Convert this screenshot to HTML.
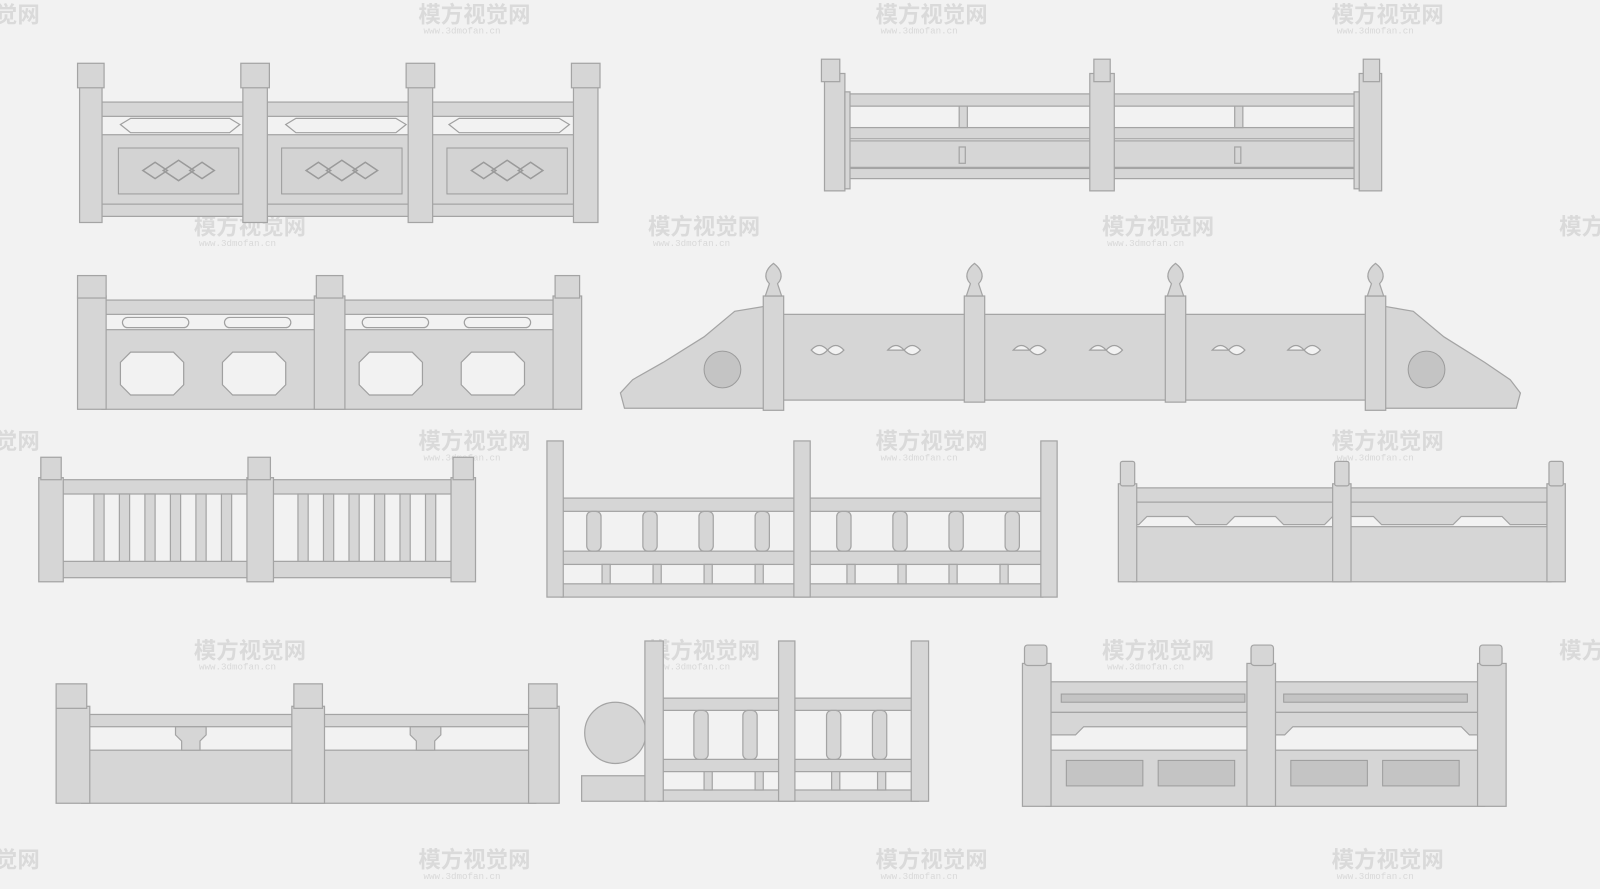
<!DOCTYPE html>
<html><head><meta charset="utf-8"><style>
html,body{margin:0;padding:0;background:#f2f2f2;overflow:hidden}
svg{display:block}
.s{fill:#d6d6d6;stroke:#a4a4a4;stroke-width:1.2}
.d{fill:#c4c4c4;stroke:#9c9c9c;stroke-width:1}
.h{fill:#f2f2f2;stroke:#a0a0a0;stroke-width:1.2}
.w{font-family:"Liberation Sans","Noto Sans CJK SC",sans-serif;font-size:22px;font-weight:bold;fill:#c8c8c8;opacity:.55}
.w2{font-family:"Liberation Mono",monospace;font-size:9px;fill:#c8c8c8;opacity:.6}
</style></head><body>
<svg width="1600" height="889" viewBox="0 0 1568 871" preserveAspectRatio="none" xmlns="http://www.w3.org/2000/svg">
<rect width="1568" height="871" fill="#f2f2f2"/>

<!-- watermarks -->
<g>
<text class="w" x="410" y="22">模方视觉网</text><text class="w" x="858" y="22">模方视觉网</text><text class="w" x="1305" y="22">模方视觉网</text><text class="w" x="-5" y="22">觉网</text>
<text class="w" x="190" y="230">模方视觉网</text><text class="w" x="635" y="230">模方视觉网</text><text class="w" x="1080" y="230">模方视觉网</text><text class="w" x="1528" y="230">模方</text>
<text class="w" x="410" y="440">模方视觉网</text><text class="w" x="858" y="440">模方视觉网</text><text class="w" x="1305" y="440">模方视觉网</text><text class="w" x="-5" y="440">觉网</text>
<text class="w" x="190" y="645">模方视觉网</text><text class="w" x="635" y="645">模方视觉网</text><text class="w" x="1080" y="645">模方视觉网</text><text class="w" x="1528" y="645">模方</text>
<text class="w" x="410" y="850">模方视觉网</text><text class="w" x="858" y="850">模方视觉网</text><text class="w" x="1305" y="850">模方视觉网</text><text class="w" x="-5" y="850">觉网</text>
<text class="w2" x="415" y="33">www.3dmofan.cn</text><text class="w2" x="863" y="33">www.3dmofan.cn</text><text class="w2" x="1310" y="33">www.3dmofan.cn</text>
<text class="w2" x="195" y="241">www.3dmofan.cn</text><text class="w2" x="640" y="241">www.3dmofan.cn</text><text class="w2" x="1085" y="241">www.3dmofan.cn</text>
<text class="w2" x="415" y="451">www.3dmofan.cn</text><text class="w2" x="863" y="451">www.3dmofan.cn</text><text class="w2" x="1310" y="451">www.3dmofan.cn</text>
<text class="w2" x="195" y="656">www.3dmofan.cn</text><text class="w2" x="640" y="656">www.3dmofan.cn</text><text class="w2" x="1085" y="656">www.3dmofan.cn</text>
<text class="w2" x="415" y="861">www.3dmofan.cn</text><text class="w2" x="863" y="861">www.3dmofan.cn</text><text class="w2" x="1310" y="861">www.3dmofan.cn</text>
</g>

<!-- R1 -->
<g>
<rect class="s" x="95" y="100" width="480" height="14"/>
<rect class="s" x="95" y="132" width="480" height="70"/>
<rect class="s" x="95" y="200" width="480" height="12"/>
<g class="h"><polygon points="118,122 128,116 225,116 235,122 225,130 128,130"/><polygon points="280,122 290,116 388,116 398,122 388,130 290,130"/><polygon points="440,122 450,116 548,116 558,122 548,130 450,130"/></g>
<g class="d" fill-opacity=".5"><rect x="116" y="145" width="118" height="45" fill="#d0d0d0"/><rect x="276" y="145" width="118" height="45" fill="#d0d0d0"/><rect x="438" y="145" width="118" height="45" fill="#d0d0d0"/></g>
<g fill="none" stroke="#9a9a9a" stroke-width="1.5"><path d="M140,167 l12,-8 12,8 -12,8z M160,167 l15,-10 15,10 -15,10z M186,167 l12,-8 12,8 -12,8z"/><path d="M300,167 l12,-8 12,8 -12,8z M320,167 l15,-10 15,10 -15,10z M346,167 l12,-8 12,8 -12,8z"/><path d="M462,167 l12,-8 12,8 -12,8z M482,167 l15,-10 15,10 -15,10z M508,167 l12,-8 12,8 -12,8z"/></g>
<g class="s"><rect x="78" y="85" width="22" height="133"/><rect x="76" y="62" width="26" height="24"/>
<rect x="238" y="85" width="24" height="133"/><rect x="236" y="62" width="28" height="24"/>
<rect x="400" y="85" width="24" height="133"/><rect x="398" y="62" width="28" height="24"/>
<rect x="562" y="85" width="24" height="133"/><rect x="560" y="62" width="28" height="24"/></g>
</g>

<!-- R2 -->
<g>
<rect class="s" x="820" y="92" width="520" height="12"/>
<rect class="s" x="820" y="125" width="520" height="11"/>
<rect class="s" x="820" y="138" width="520" height="26"/>
<rect class="s" x="820" y="165" width="520" height="10"/>
<g class="s"><rect x="940" y="104" width="8" height="21"/><rect x="1210" y="104" width="8" height="21"/><rect x="940" y="144" width="6" height="16"/><rect x="1210" y="144" width="6" height="16"/></g>
<g class="s"><rect x="808" y="72" width="20" height="115"/><rect x="805" y="58" width="18" height="22"/><rect x="828" y="90" width="5" height="95"/>
<rect x="1068" y="72" width="24" height="115"/><rect x="1072" y="58" width="16" height="22"/>
<rect x="1332" y="72" width="22" height="115"/><rect x="1336" y="58" width="16" height="22"/><rect x="1327" y="90" width="5" height="95"/></g>
</g>

<!-- R3 -->
<g>
<rect class="s" x="100" y="294" width="445" height="14"/>
<rect class="s" x="100" y="323" width="445" height="78"/>
<g class="h"><rect x="120" y="311" width="65" height="10" rx="5"/><rect x="220" y="311" width="65" height="10" rx="5"/><rect x="355" y="311" width="65" height="10" rx="5"/><rect x="455" y="311" width="65" height="10" rx="5"/>
<path d="M128,345 h42 l10,10 v22 l-10,10 h-42 l-10,-10 v-22z"/><path d="M228,345 h42 l10,10 v22 l-10,10 h-42 l-10,-10 v-22z"/><path d="M362,345 h42 l10,10 v22 l-10,10 h-42 l-10,-10 v-22z"/><path d="M462,345 h42 l10,10 v22 l-10,10 h-42 l-10,-10 v-22z"/></g>
<g class="s"><rect x="76" y="290" width="28" height="111"/><rect x="76" y="270" width="28" height="22"/>
<rect x="308" y="290" width="30" height="111"/><rect x="310" y="270" width="26" height="22"/>
<rect x="542" y="290" width="28" height="111"/><rect x="544" y="270" width="24" height="22"/></g>
</g>

<!-- R4 -->
<g>
<path class="s" d="M750,300 L720,305 L690,330 L650,355 L620,372 L608,385 L612,400 L750,400z"/>
<path class="s" d="M1356,300 L1385,305 L1415,330 L1455,355 L1480,372 L1490,385 L1486,400 L1356,400z"/>
<circle class="d" cx="708" cy="362" r="18" fill="#cfcfcf"/><circle class="d" cx="1398" cy="362" r="18" fill="#cfcfcf"/>
<rect class="s" x="765" y="308" width="575" height="84"/>
<g class="h"><path d="M795,343 q8,-9 16,0 q8,-9 16,0 q-8,9 -16,0 q-8,9 -16,0z"/><path d="M870,343 q8,-9 16,0 q8,-9 16,0 q-8,9 -16,0z"/>
<path d="M993,343 q8,-9 16,0 q8,-9 16,0 q-8,9 -16,0z"/><path d="M1068,343 q8,-9 16,0 q8,-9 16,0 q-8,9 -16,0z"/>
<path d="M1188,343 q8,-9 16,0 q8,-9 16,0 q-8,9 -16,0z"/><path d="M1262,343 q8,-9 16,0 q8,-9 16,0 q-8,9 -16,0z"/></g>
<g class="s"><rect x="748" y="290" width="20" height="112"/><rect x="945" y="290" width="20" height="104"/><rect x="1142" y="290" width="20" height="104"/><rect x="1338" y="290" width="20" height="112"/>
<path d="M758,258 c8,6 10,14 4,20 l4,12 h-16 l4,-12 c-6,-6 -4,-14 4,-20z"/><path d="M955,258 c8,6 10,14 4,20 l4,12 h-16 l4,-12 c-6,-6 -4,-14 4,-20z"/>
<path d="M1152,258 c8,6 10,14 4,20 l4,12 h-16 l4,-12 c-6,-6 -4,-14 4,-20z"/><path d="M1348,258 c8,6 10,14 4,20 l4,12 h-16 l4,-12 c-6,-6 -4,-14 4,-20z"/></g>
</g>

<!-- R5 -->
<g>
<rect class="s" x="55" y="470" width="395" height="14"/>
<rect class="s" x="55" y="550" width="395" height="16"/>
<g class="s"><rect x="92" y="484" width="10" height="66"/><rect x="117" y="484" width="10" height="66"/><rect x="142" y="484" width="10" height="66"/><rect x="167" y="484" width="10" height="66"/><rect x="192" y="484" width="10" height="66"/><rect x="217" y="484" width="10" height="66"/>
<rect x="292" y="484" width="10" height="66"/><rect x="317" y="484" width="10" height="66"/><rect x="342" y="484" width="10" height="66"/><rect x="367" y="484" width="10" height="66"/><rect x="392" y="484" width="10" height="66"/><rect x="417" y="484" width="10" height="66"/></g>
<g class="s"><rect x="38" y="468" width="24" height="102"/><rect x="40" y="448" width="20" height="22"/>
<rect x="242" y="468" width="26" height="102"/><rect x="243" y="448" width="22" height="22"/>
<rect x="442" y="468" width="24" height="102"/><rect x="444" y="448" width="20" height="22"/></g>
</g>

<!-- R6 -->
<g>
<rect class="s" x="550" y="488" width="472" height="13"/>
<rect class="s" x="550" y="540" width="472" height="13"/>
<rect class="s" x="550" y="572" width="472" height="13"/>
<g class="s"><rect x="575" y="501" width="14" height="39" rx="5"/><rect x="630" y="501" width="14" height="39" rx="5"/><rect x="685" y="501" width="14" height="39" rx="5"/><rect x="740" y="501" width="14" height="39" rx="5"/>
<rect x="820" y="501" width="14" height="39" rx="5"/><rect x="875" y="501" width="14" height="39" rx="5"/><rect x="930" y="501" width="14" height="39" rx="5"/><rect x="985" y="501" width="14" height="39" rx="5"/>
<rect x="590" y="553" width="8" height="19"/><rect x="640" y="553" width="8" height="19"/><rect x="690" y="553" width="8" height="19"/><rect x="740" y="553" width="8" height="19"/>
<rect x="830" y="553" width="8" height="19"/><rect x="880" y="553" width="8" height="19"/><rect x="930" y="553" width="8" height="19"/><rect x="980" y="553" width="8" height="19"/></g>
<g class="s"><rect x="536" y="432" width="16" height="153"/><rect x="778" y="432" width="16" height="153"/><rect x="1020" y="432" width="16" height="153"/></g>
</g>

<!-- R7 -->
<g>
<rect class="s" x="1110" y="478" width="410" height="14"/>
<path class="s" d="M1110,492 h410 v22 h-40 l-8,-8 h-40 l-8,8 h-70 l-8,-8 h-40 l-8,8 h-40 l-8,-8 h-40 l-8,8 h-30 l-8,-8 h-40 l-8,8 h-10z"/>
<rect class="s" x="1110" y="516" width="410" height="54"/>
<g class="s"><rect x="1096" y="474" width="18" height="96"/><rect x="1098" y="452" width="14" height="24" rx="2"/>
<rect x="1306" y="474" width="18" height="96"/><rect x="1308" y="452" width="14" height="24" rx="2"/>
<rect x="1516" y="474" width="18" height="96"/><rect x="1518" y="452" width="14" height="24" rx="2"/></g>
</g>

<!-- R8 -->
<g>
<rect class="s" x="80" y="700" width="445" height="12"/>
<rect class="s" x="80" y="735" width="445" height="52"/>
<g class="s"><path d="M172,712 h30 v8 l-6,6 v9 h-18 v-9 l-6,-6z"/><path d="M402,712 h30 v8 l-6,6 v9 h-18 v-9 l-6,-6z"/></g>
<g class="s"><rect x="55" y="692" width="33" height="95"/><rect x="55" y="670" width="30" height="24"/>
<rect x="286" y="692" width="32" height="95"/><rect x="288" y="670" width="28" height="24"/>
<rect x="518" y="692" width="30" height="95"/><rect x="518" y="670" width="28" height="24"/></g>
</g>

<!-- R9 -->
<g>
<path class="s" d="M570,760 h65 v25 h-65z"/>
<circle class="s" cx="603" cy="718" r="30"/>
<rect class="s" x="645" y="684" width="255" height="12"/>
<rect class="s" x="645" y="744" width="255" height="12"/>
<rect class="s" x="645" y="774" width="255" height="11"/>
<g class="s"><rect x="680" y="696" width="14" height="48" rx="5"/><rect x="728" y="696" width="14" height="48" rx="5"/><rect x="810" y="696" width="14" height="48" rx="5"/><rect x="855" y="696" width="14" height="48" rx="5"/>
<rect x="690" y="756" width="8" height="18"/><rect x="740" y="756" width="8" height="18"/><rect x="815" y="756" width="8" height="18"/><rect x="860" y="756" width="8" height="18"/></g>
<g class="s"><rect x="632" y="628" width="18" height="157"/><rect x="763" y="628" width="16" height="157"/><rect x="893" y="628" width="17" height="157"/></g>
</g>

<!-- R10 -->
<g>
<rect class="s" x="1025" y="668" width="430" height="30"/>
<rect class="d" x="1040" y="680" width="180" height="8" fill="#bdbdbd"/><rect class="d" x="1258" y="680" width="180" height="8" fill="#bdbdbd"/>
<path class="s" d="M1025,698 h430 v22 h-15 l-8,-8 h-165 l-8,8 h-12 v0 h-12 l-8,-8 h-165 l-8,8 h-29z"/>
<rect class="s" x="1025" y="735" width="430" height="55"/>
<g class="d" fill="#cdcdcd"><rect x="1045" y="745" width="75" height="25"/><rect x="1135" y="745" width="75" height="25"/><rect x="1265" y="745" width="75" height="25"/><rect x="1355" y="745" width="75" height="25"/></g>
<g class="s"><rect x="1002" y="650" width="28" height="140"/><rect x="1004" y="632" width="22" height="20" rx="3"/>
<rect x="1222" y="650" width="28" height="140"/><rect x="1226" y="632" width="22" height="20" rx="3"/>
<rect x="1448" y="650" width="28" height="140"/><rect x="1450" y="632" width="22" height="20" rx="3"/></g>
</g>
</svg>
</body></html>
